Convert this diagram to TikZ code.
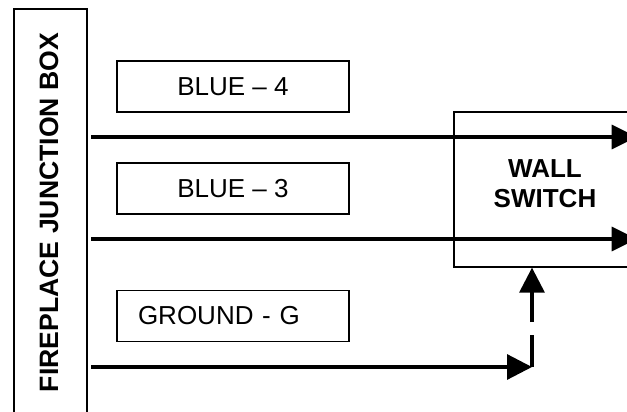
\documentclass[tikz,border=0pt]{standalone}
\usepackage{fontspec}
\setmainfont{Liberation Sans}
\usetikzlibrary{arrows.meta}
\tikzset{
	wire/.style={line width=3.2pt},
	tip/.style={-{Triangle[length=25pt,width=25pt]}},
	labelbox/.style={draw, line width=1.3pt, minimum width=232pt, minimum height=51pt, inner sep=0pt, font=\fontsize{26}{30}\selectfont},
	boldtext/.style={font=\fontsize{26}{30}\selectfont\bfseries, inner sep=0pt}
}

\begin{document}
\begin{tikzpicture}[x=1pt, y=-1pt]
	%%%%% START %%%%%
	\clip (0, 0) rectangle (627, 412);
	
	% junction box, open at the bottom
	\node[draw, line width=2pt, minimum width=73pt, minimum height=420pt, inner sep=0pt] (jbox) at (50, 219.5) {};
	\node[boldtext, rotate=90, font=\fontsize{26.6}{30}\selectfont\bfseries] (jboxtxt) at (49, 212.5) {FIREPLACE JUNCTION BOX};
	
	\node[labelbox] (blue4) at (233, 86.5) {BLUE -- 4};
	\node[labelbox] (blue3) at (233, 188.5) {BLUE -- 3};
	\node[labelbox, text width=190pt, inner xsep=21pt, align=left] (ground) at (233, 316) {GROUND - G};
	
	% wall switch
	\node[draw, line width=1.3pt, minimum width=182pt, minimum height=155pt, inner sep=0pt] (wall) at (545, 189.5) {};
	\node[boldtext, align=center] (walltxt) at (545, 184) {WALL\\SWITCH};
	
	\coordinate (w4) at (91, 137);
	\coordinate (w3) at (91, 239);
	\coordinate (wg) at (91, 367);
	\coordinate (gbend) at (532, 367);
	
	\draw[wire, -{Triangle[length=25pt,width=24pt]}] (w4) -- (w4 -| wall.east);
	\draw[wire, -{Triangle[length=25pt,width=24pt]}] (w3) -- (w3 -| wall.east);
	\draw[wire, tip] (wg) -- (gbend);
	\draw[wire, tip, dash pattern=on 32pt off 13pt] (gbend) -- (gbend |- wall.south);
	
	%%%%% END %%%%%
\end{tikzpicture}
\end{document}
